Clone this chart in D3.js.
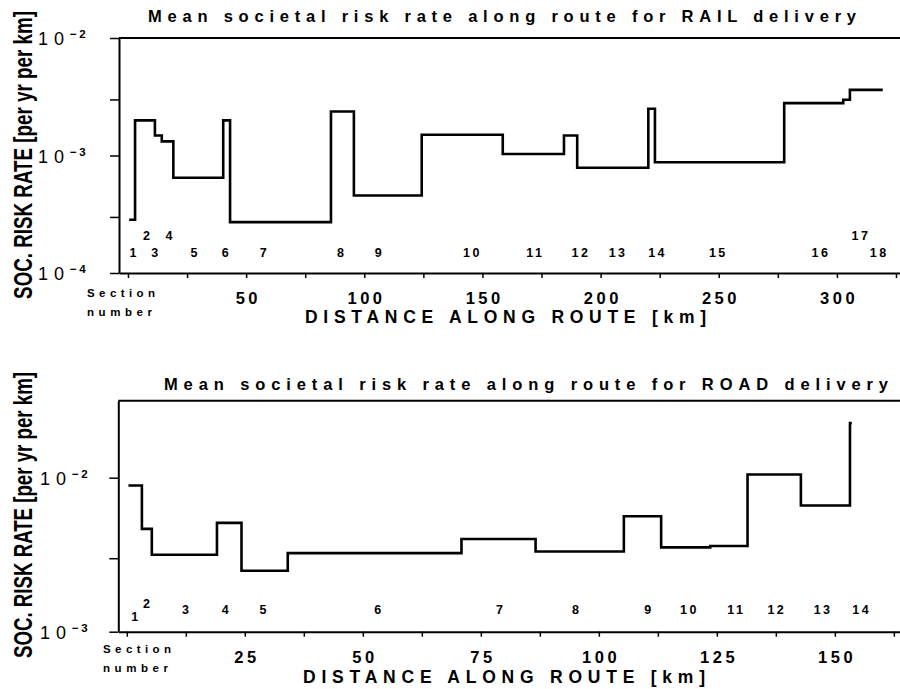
<!DOCTYPE html>
<html><head><meta charset="utf-8">
<script src="https://cdn.jsdelivr.net/npm/d3@7"></script>
<style>
body{margin:0;background:#fff}
svg{display:block}
text{font-family:"Liberation Sans",Arial,Helvetica,sans-serif;fill:#000}
</style>
</head><body>
<svg id="c" width="900" height="689"></svg>
<script>
// ---------- DATA ----------
// RAIL: section boundaries along route (km) and mean societal risk rate per section
const railBreaks = [0.5, 3, 11.4, 14.3, 19.2, 40.3, 43.2, 85.9, 95.6, 124.3, 158.6, 184.5, 190.1, 220.2, 223, 277.7, 302.7, 305.5, 319.4];
const railRates  = [2.84e-4, 1.99e-3, 1.48e-3, 1.32e-3, 6.46e-4, 1.99e-3, 2.71e-4, 2.37e-3, 4.57e-4, 1.5e-3, 1.03e-3, 1.48e-3, 7.86e-4, 2.5e-3, 8.77e-4, 2.79e-3, 2.98e-3, 3.62e-3];
const railSectionNames = ["1","2","3","4","5","6","7","8","9","10","11","12","13","14","15","16","17","18"];
const railSectionKm    = [2.2, 7.9, 11.4, 17.5, 28, 41.3, 57.3, 90, 106, 145.4, 172, 191.3, 207, 223.7, 249.4, 292.8, 309.8, 317.5];
const railSectionLevel = [0, 1, 0, 1, 0, 0, 0, 0, 0, 0, 0, 0, 0, 0, 0, 0, 1, 0];
const railXTicks  = [0, 25, 50, 75, 100, 125, 150, 175, 200, 225, 250, 275, 300, 325];
const railXLabels = [50, 100, 150, 200, 250, 300];
const railYTicks  = [1e-4, 3e-4, 1e-3, 3e-3, 1e-2];
const railYLabels = [1e-4, 1e-3, 1e-2];

// ROAD
const roadBreaks = [0.35, 3.2, 5.3, 19.1, 24.3, 34.1, 70.9, 86.6, 105.3, 113.2, 123.6, 131.5, 142.8, 153.2, 153.6];
const roadRates  = [8.9e-3, 4.65e-3, 3.16e-3, 5.09e-3, 2.49e-3, 3.24e-3, 4.0e-3, 3.32e-3, 5.62e-3, 3.53e-3, 3.6e-3, 1.05e-2, 6.6e-3, 2.26e-2];
const roadSectionNames = ["1","2","3","4","5","6","7","8","9","10","11","12","13","14"];
const roadSectionKm    = [1.75, 4.2, 12.5, 20.9, 28.9, 53.2, 79, 95.1, 110.4, 119, 128.9, 137.5, 147.3, 155.5];
const roadSectionLevel = [-1, 1, 0, 0, 0, 0, 0, 0, 0, 0, 0, 0, 0, 0];
const roadXTicks  = [0, 12.5, 25, 37.5, 50, 62.5, 75, 87.5, 100, 112.5, 125, 137.5, 150, 162.5];
const roadXLabels = [25, 50, 75, 100, 125, 150];
const roadYTicks  = [1e-3, 3e-3, 1e-2];
const roadYLabels = [1e-3, 1e-2];

const yTitle = "SOC. RISK RATE [per yr per km]";
const xTitle = "DISTANCE ALONG ROUTE [km]";

// ---------- DRAW ----------
const svg = d3.select("#c");
svg.append("rect").attr("width", 900).attr("height", 689).attr("fill", "#fff");

function panel(o) {
  const g = svg.append("g");
  const x = d3.scaleLinear().domain(o.xDomain).range([o.left, 900]);
  const y = d3.scaleLog().domain(o.yDomain).range([o.bottom, o.top]);

  // top border
  g.append("line").attr("x1", o.left).attr("x2", 900).attr("y1", o.top).attr("y2", o.top)
    .attr("stroke", "#000").attr("stroke-width", 2);

  // x axis
  const xa = g.append("g").attr("transform", `translate(0,${o.bottom})`)
    .call(d3.axisBottom(x).tickValues(o.xTicks).tickSize(5).tickSizeOuter(0).tickPadding(o.xPad)
      .tickFormat(d => o.xLabels.includes(d) ? String(d) : ""));
  xa.select(".domain").attr("stroke-width", 2);
  xa.selectAll(".tick line").attr("stroke-width", 1.5);
  xa.selectAll(".tick text").attr("font-size", 16.5).attr("font-weight", "bold")
    .attr("letter-spacing", "3.5px").attr("font-family", "Liberation Sans, Arial, sans-serif")
    .attr("dx", "1.7px");

  // y axis
  const ya = g.append("g").attr("transform", `translate(${o.left},0)`)
    .call(d3.axisLeft(y).tickValues(o.yTicks).tickSize(9).tickSizeOuter(0).tickFormat(() => ""));
  ya.select(".domain").attr("stroke-width", 2);
  ya.selectAll(".tick line").attr("stroke-width", 1.5);
  ya.selectAll(".tick text").each(function(d) {
    if (!o.yLabels.some(v => Math.abs(v - d) / v < 1e-6)) return;
    const e = Math.round(Math.log10(d));
    const t = d3.select(this).attr("text-anchor", "start").attr("x", o.yLabX - o.left)
      .attr("dy", null).attr("y", 6.5).attr("font-family", "Liberation Sans, Arial, sans-serif");
    t.append("tspan").attr("font-size", 18).attr("letter-spacing", "6px").text("10");
    t.append("tspan").attr("font-size", 11.5).attr("font-weight", "bold").attr("dy", -7)
      .attr("letter-spacing", "2.5px").text("\u2212" + Math.abs(e));
  });

  // step line
  const pts = o.rates.map((v, i) => [o.breaks[i], v]);
  pts.push([o.breaks[o.breaks.length - 1], o.rates[o.rates.length - 1]]);
  const line = d3.line().x(d => x(d[0])).y(d => y(d[1])).curve(d3.curveStepAfter);
  g.append("path").datum(pts).attr("d", line).attr("fill", "none")
    .attr("stroke", "#000").attr("stroke-width", 2.6).attr("stroke-linejoin", "miter");

  // section numbers
  g.selectAll(".sec").data(o.secNames).enter().append("text")
    .attr("x", (d, i) => x(o.secKm[i]))
    .attr("y", (d, i) => o.secY - o.secLevel[i] * o.secStep + 0.358 * 12.5)
    .attr("text-anchor", "middle").attr("font-size", 12.5).attr("font-weight", "bold")
    .attr("letter-spacing", "2.5px").attr("dx", "1px").text(d => d);

  // "Section number"
  g.append("text").attr("x", o.secLabX).attr("y", o.secLabY1 + 0.358 * 11.5)
    .attr("font-size", 11.5).attr("font-weight", "bold").attr("textLength", 68)
    .attr("lengthAdjust", "spacing").text("Section");
  g.append("text").attr("x", o.secLabX).attr("y", o.secLabY2 + 0.358 * 11.5)
    .attr("font-size", 11.5).attr("font-weight", "bold").attr("textLength", 65)
    .attr("lengthAdjust", "spacing").text("number");

  // title
  g.append("text").attr("x", o.titleX0).attr("y", o.titleY + 0.358 * 16.5)
    .attr("font-size", 16.5).attr("font-weight", "bold")
    .attr("textLength", o.titleX1 - o.titleX0).attr("lengthAdjust", "spacing").text(o.title);

  // x title
  g.append("text").attr("x", o.xtX0).attr("y", o.xtY + 0.358 * 17.5)
    .attr("font-size", 17.5).attr("font-weight", "bold")
    .attr("textLength", o.xtX1 - o.xtX0).attr("lengthAdjust", "spacing").text(xTitle);

  // y title: condensed by a horizontal scale so it spans ytLen exactly
  const yt = g.append("text").attr("text-anchor", "middle").attr("font-size", 26).attr("font-weight", "bold")
    .attr("font-family", "Liberation Sans Narrow, Liberation Sans, Arial, sans-serif").text(yTitle);
  const natural = yt.node().getComputedTextLength();
  const sx = o.ytLen / natural;
  yt.attr("transform", `translate(32,${o.ytY}) rotate(-90) scale(${sx},1)`);
}

panel({
  xDomain: [-3.8, 326.7], yDomain: [1e-4, 1e-2], left: 119, top: 38, bottom: 273,
  xTicks: railXTicks, xLabels: railXLabels, xPad: 14,
  yTicks: railYTicks, yLabels: railYLabels, yLabX: 38,
  breaks: railBreaks, rates: railRates,
  secNames: railSectionNames, secKm: railSectionKm, secLevel: railSectionLevel, secY: 252.5, secStep: 16.5,
  secLabX: 87, secLabY1: 293, secLabY2: 311.5,
  title: "Mean societal risk rate along route for RAIL delivery", titleX0: 148, titleX1: 856, titleY: 16,
  xtX0: 305, xtX1: 706, xtY: 316.5,
  ytY: 155, ytLen: 288
});

panel({
  xDomain: [-1.8, 163.8], yDomain: [1e-3, Math.pow(10, -1.5)], left: 118.3, top: 400.7, bottom: 631.7,
  xTicks: roadXTicks, xLabels: roadXLabels, xPad: 15,
  yTicks: roadYTicks, yLabels: roadYLabels, yLabX: 40,
  breaks: roadBreaks, rates: roadRates,
  secNames: roadSectionNames, secKm: roadSectionKm, secLevel: roadSectionLevel, secY: 610, secStep: 6.5,
  secLabX: 103, secLabY1: 649.3, secLabY2: 668.3,
  title: "Mean societal risk rate along route for ROAD delivery", titleX0: 164, titleX1: 888, titleY: 384,
  xtX0: 303, xtX1: 705, xtY: 676.5,
  ytY: 515, ytLen: 286
});
</script>
</body></html>
